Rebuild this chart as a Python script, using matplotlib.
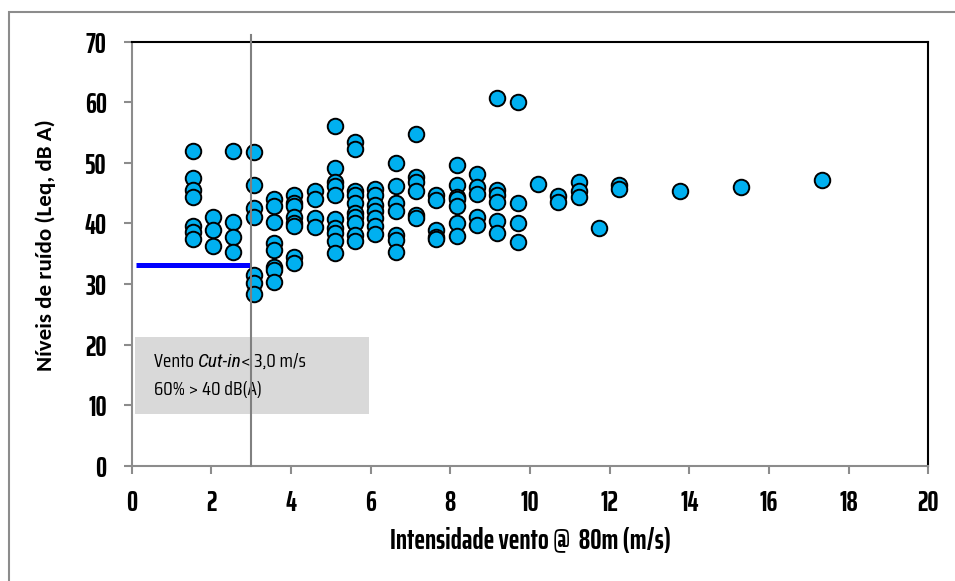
import matplotlib
matplotlib.use("Agg")
import matplotlib.pyplot as plt
from matplotlib import font_manager
from matplotlib.patches import Rectangle

# ---------------- data ----------------
wind_speed = (
    [1.53] * 7 + [2.04] * 3 + [2.55] * 4 + [3.06] * 7 + [3.57] * 8 + [4.08] * 8 +
    [4.59] * 4 + [5.10] * 10 + [5.61] * 10 + [6.12] * 7 + [6.63] * 7 + [7.14] * 6 +
    [7.65] * 5 + [8.16] * 7 + [8.67] * 5 + [9.18] * 6 + [9.69] * 4 + [10.20] * 1 +
    [10.71] * 2 + [11.22] * 3 + [11.73] * 1 + [12.24] * 2 + [13.77] * 1 + [15.30] * 1 +
    [17.34] * 1
)
noise_level = [
    51.9, 47.5, 45.5, 44.3, 39.5, 38.6, 37.5,
    41.0, 38.9, 36.3,
    51.9, 40.2, 37.7, 35.3,
    51.8, 46.3, 42.6, 41.1, 31.5, 30.1, 28.4,
    44.1, 42.8, 40.2, 36.7, 35.6, 32.8, 32.3, 30.4,
    44.7, 43.3, 42.9, 41.1, 40.0, 39.5, 34.5, 33.4,
    45.3, 44.0, 40.9, 39.4,
    56.1, 49.1, 46.9, 46.2, 44.7, 40.7, 39.2, 38.4, 37.1, 35.1,
    53.5, 52.3, 45.3, 44.7, 43.3, 41.7, 41.1, 40.0, 38.1, 37.1,
    45.7, 44.7, 43.1, 42.0, 40.9, 39.5, 38.3,
    50.0, 46.1, 43.3, 42.0, 38.1, 37.3, 35.3,
    54.8, 47.7, 46.9, 45.3, 41.4, 40.9,
    44.7, 43.8, 38.9, 37.8, 37.4,
    49.7, 46.4, 44.4, 44.0, 42.9, 40.0, 37.9,
    48.1, 46.0, 44.9, 41.0, 39.7,
    60.7, 45.5, 44.7, 43.6, 40.4, 38.4,
    60.1, 43.4, 40.1, 37.0,
    46.5,
    44.6, 43.6,
    46.9, 45.4, 44.3,
    39.2,
    46.3, 45.7,
    45.4,
    46.0,
    47.1,
]
cutin_speed = 3.0
threshold_x = [0.1, 3.0]
threshold_y = [33.2, 33.2]
x_ticks = list(range(0, 21, 2))
y_ticks = list(range(0, 71, 10))
x_label = "Intensidade vento @  80m (m/s)"
y_label = "Níveis de ruído (Leq, dB A)"
note_line1 = ["Vento ", "Cut-in", "< 3,0 m/s"]
note_line2 = "60% > 40 dB(A)"

# ---------------- fonts ----------------
fl = font_manager.fontManager.ttflist
available = {f.name for f in fl}
def pick(*cands):
    for c in cands:
        if c in available:
            return c
    return "DejaVu Sans"
def pick_italic(*cands):
    for c in cands:
        if any(f.name == c and f.style == "italic" for f in fl):
            return c
    return "DejaVu Sans"
narrow = pick("Saira ExtraCondensed", "Saira Condensed", "Roboto Condensed", "DejaVu Sans")
note_font = pick("Saira Condensed", "Saira ExtraCondensed", "Roboto Condensed", "DejaVu Sans")
note_italic = pick_italic("Saira Condensed", "Saira ExtraCondensed", "Saira SemiCondensed",
                          "Roboto Condensed", "Barlow Condensed", "Fira Sans Condensed")
label_font = pick("Carlito", "Lato", "DejaVu Sans")

W, H = 955, 581
fig = plt.figure(figsize=(W / 100, H / 100), dpi=100)
fig.patch.set_facecolor("white")

# outer chart border
fig.add_artist(Rectangle((9 / W, -0.01), 1.02, 1.01 - 12 / H, transform=fig.transFigure,
                         fill=False, edgecolor="#8c8c8c", linewidth=1.5))

left, right, top, bottom = 131.7, 928.3, 41.7, 465.7
ax = fig.add_axes([left / W, 1 - bottom / H, (right - left) / W, (bottom - top) / H])

ax.set_xlim(0, 20)
ax.set_ylim(0, 70)
ax.set_xticks(x_ticks)
ax.set_yticks(y_ticks)

# annotation box
ax.add_patch(Rectangle((0.08, 8.5), 5.88, 12.75, facecolor="#d9d9d9", edgecolor="none", zorder=1))

# cut-in vertical line (drawn on top of everything)
ax.plot([cutin_speed, cutin_speed], [0, 71.1], color="#808080", lw=1.5, zorder=8, clip_on=False)

# threshold line
ax.plot(threshold_x, threshold_y, color="#0000ff", lw=3.6, zorder=3, solid_capstyle="butt")

ax.scatter(wind_speed, noise_level, s=125, facecolor="#00b0f0", edgecolor="black",
           linewidth=1.4, zorder=7)

for side in ("top", "right"):
    ax.spines[side].set_color("black")
    ax.spines[side].set_linewidth(1.5)
for side in ("left", "bottom"):
    ax.spines[side].set_color("#8c8c8c")
    ax.spines[side].set_linewidth(1.5)

ax.tick_params(axis="both", direction="out", length=6, width=1.5, color="#8c8c8c")
ax.tick_params(axis="y", pad=12)
ax.tick_params(axis="x", pad=11)
for lab in ax.get_xticklabels() + ax.get_yticklabels():
    lab.set_fontfamily(narrow)
    lab.set_fontweight("bold")
    lab.set_fontsize(20)

ax.set_xlabel(x_label, fontfamily=narrow, fontweight="bold", fontsize=20.5, labelpad=7)
ax.set_ylabel(y_label, fontfamily=label_font, fontweight="bold", fontsize=16.5)
ax.yaxis.set_label_coords(-0.095, 0.52)

# annotation text
fs = 14
t1 = ax.text(0.56, 17.2, note_line1[0], fontfamily=note_font, fontsize=fs, va="center", ha="left", zorder=5)
t2 = ax.annotate(note_line1[1], xy=(1, 0), xycoords=t1, va="bottom", ha="left",
                 fontfamily=note_italic, fontsize=fs, fontstyle="italic", zorder=5)
t3 = ax.annotate(note_line1[2], xy=(1, 0), xycoords=t2, va="bottom", ha="left",
                 fontfamily=note_font, fontsize=fs, zorder=5)
ax.text(0.56, 12.5, note_line2, fontfamily=note_font, fontsize=fs, va="center", ha="left", zorder=5)

fig.savefig("out.png", dpi=100)
